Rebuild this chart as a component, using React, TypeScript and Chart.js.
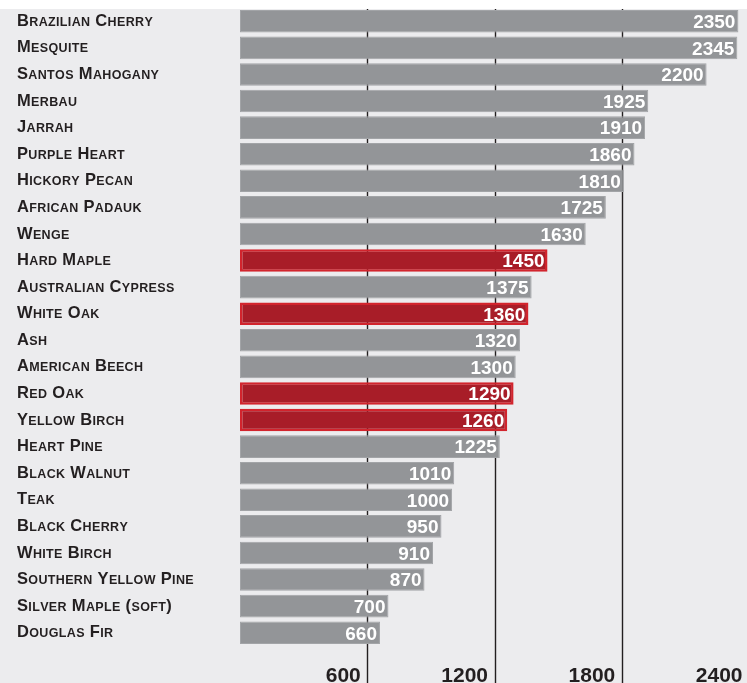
import React, { useEffect, useRef } from "react";
import { Chart, registerables } from "chart.js";

Chart.register(...registerables);

// Janka hardness ratings (lbf), hardest first
const species = [
  "Brazilian Cherry",
  "Mesquite",
  "Santos Mahogany",
  "Merbau",
  "Jarrah",
  "Purple Heart",
  "Hickory Pecan",
  "African Padauk",
  "Wenge",
  "Hard Maple",
  "Australian Cypress",
  "White Oak",
  "Ash",
  "American Beech",
  "Red Oak",
  "Yellow Birch",
  "Heart Pine",
  "Black Walnut",
  "Teak",
  "Black Cherry",
  "White Birch",
  "Southern Yellow Pine",
  "Silver Maple (soft)",
  "Douglas Fir",
];

const hardness = [
  2350, 2345, 2200, 1925, 1910, 1860, 1810, 1725, 1630, 1450, 1375, 1360, 1320,
  1300, 1290, 1260, 1225, 1010, 1000, 950, 910, 870, 700, 660,
];

const featured = ["Hard Maple", "White Oak", "Red Oak", "Yellow Birch"];

const axisTicks = [600, 1200, 1800, 2400];

const FONT = '"Liberation Sans", Arial, Helvetica, sans-serif';
const INK = "#231f20";
const PANEL = "#ececee";

// Small caps by hand: capitals at full size, lowercase as smaller capitals
function drawSmallCaps(
  ctx: CanvasRenderingContext2D,
  text: string,
  x: number,
  y: number
) {
  let cx = x;
  for (const ch of text) {
    const isLower = ch !== ch.toUpperCase();
    const glyph = ch.toUpperCase();
    ctx.font = `bold ${isLower ? 12.5 : 16.5}px ${FONT}`;
    ctx.fillText(glyph, cx, y);
    cx += ctx.measureText(glyph).width + 0.35;
  }
}

const panelPlugin = {
  id: "panel",
  beforeDraw(chart: any) {
    const { ctx, width, height } = chart;
    ctx.save();
    ctx.fillStyle = "#ffffff";
    ctx.fillRect(0, 0, width, height);
    ctx.fillStyle = PANEL;
    ctx.fillRect(0, 9, width, height - 9);
    ctx.restore();
  },
  beforeDatasetsDraw(chart: any) {
    const { ctx, height } = chart;
    const x = chart.scales.x;
    ctx.save();
    ctx.strokeStyle = INK;
    ctx.lineWidth = 1.4;
    for (const v of axisTicks) {
      const px = Math.round(x.getPixelForValue(v)) + 0.5;
      ctx.beginPath();
      ctx.moveTo(px, 9);
      ctx.lineTo(px, height);
      ctx.stroke();
    }
    ctx.restore();
  },
  afterDatasetsDraw(chart: any) {
    const { ctx } = chart;
    const x = chart.scales.x;
    const y = chart.scales.y;
    const meta = chart.getDatasetMeta(0);
    ctx.save();
    // value labels inside bar ends
    ctx.fillStyle = "#ffffff";
    ctx.textAlign = "right";
    ctx.textBaseline = "alphabetic";
    ctx.font = `bold 19px ${FONT}`;
    meta.data.forEach((bar: any, i: number) => {
      ctx.fillText(String(hardness[i]), bar.x - 3, bar.y + 6.8);
    });
    // species names
    ctx.fillStyle = INK;
    ctx.textAlign = "left";
    species.forEach((name, i) => {
      const py = y.getPixelForValue(i);
      drawSmallCaps(ctx, name, 17, py + 4.6);
    });
    // axis numbers, right-aligned against their grid lines
    ctx.textAlign = "right";
    ctx.font = `bold 21px ${FONT}`;
    for (const v of axisTicks) {
      ctx.fillText(String(v), x.getPixelForValue(v) - 6.5, 682);
    }
    ctx.restore();
  },
};

export default function App() {
  const canvasRef = useRef<HTMLCanvasElement | null>(null);

  useEffect(() => {
    document.body.style.margin = "0";
    const canvas = canvasRef.current;
    if (!canvas) return;
    const isFeatured = species.map((s) => featured.includes(s));
    const chart = new Chart(canvas, {
      type: "bar",
      data: {
        labels: species,
        datasets: [
          {
            data: hardness,
            backgroundColor: isFeatured.map((f) => (f ? "#a81d28" : "#939598")),
            borderColor: isFeatured.map((f) => (f ? "#d2242d" : "#a2a4a7")),
            borderWidth: isFeatured.map((f) => (f ? 2.5 : 1)),
            borderSkipped: false,
            barPercentage: 0.85,
            categoryPercentage: 1,
          },
        ],
      },
      options: {
        indexAxis: "y",
        responsive: false,
        animation: false,
        devicePixelRatio: 1,
        layout: { padding: { left: 240, right: 1, top: 8, bottom: 37 } },
        plugins: {
          legend: { display: false },
          tooltip: { enabled: false },
        },
        scales: {
          x: { type: "linear", min: 0, max: 2400, display: false },
          y: { type: "category", display: false },
        },
      },
      plugins: [panelPlugin],
    });
    return () => chart.destroy();
  }, []);

  return (
    <div
      style={{
        width: 747,
        height: 683,
        overflow: "hidden",
        position: "relative",
        background: "#ffffff",
      }}
    >
      <canvas
        ref={canvasRef}
        width={750}
        height={683}
        style={{ width: 750, height: 683, display: "block" }}
      />
    </div>
  );
}
